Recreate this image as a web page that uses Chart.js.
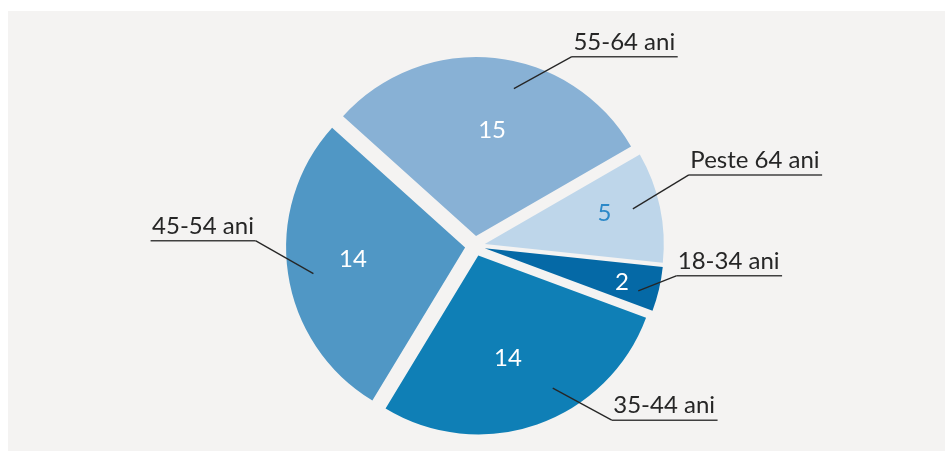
<!DOCTYPE html>
<html>
<head>
<meta charset="utf-8">
<script src="https://cdn.jsdelivr.net/npm/chart.js@4"></script>
<style>
  html, body { margin: 0; padding: 0; background: #fff; }
  #panel { position: absolute; left: 8px; top: 11px; width: 937px; height: 440px; background: #f4f3f2; }
  #pie { position: absolute; left: 0; top: 0; }
</style>
</head>
<body>
<div id="panel"></div>
<canvas id="pie" width="945" height="451"></canvas>
<script>
const categories = ['18-34 ani', '35-44 ani', '45-54 ani', '55-64 ani', 'Peste 64 ani'];
const values = [2, 14, 14, 15, 5];
const sliceColors = ['#0569a6', '#0f7fb6', '#5097c5', '#88b1d5', '#bed6ea'];
const valueColors = ['#ffffff', '#ffffff', '#ffffff', '#ffffff', '#2b88c8'];

// label layout: value text (radius fraction, angle tweak in deg),
// leader anchor (radius fraction, angle tweak) and leader vector to the elbow
const valuePos = [[0.79, 0.7], [0.60, 3.2], [0.63, 2.6], [0.60, 2.6], [0.69, -2.4]];
const anchorPos = [[0.89, 2.3], [0.85, -10.1], [0.86, -1.4], [0.85, 8.4], [0.85, -1.3]];
const leaders = [[38, -15], [59, 32], [-58, -33], [58, -32], [56, -34]];

const EXPLODE = 10;
const FONT = '24px Lato';
const deg = Math.PI / 180;

// pull each slice out along its bisector while it is drawn
const explodePlugin = {
  id: 'explode',
  beforeDatasetDraw(chart, args) {
    args.meta.data.forEach(arc => {
      const mid = (arc.startAngle + arc.endAngle) / 2;
      arc.x += Math.cos(mid) * EXPLODE;
      arc.y += Math.sin(mid) * EXPLODE;
    });
  },
  afterDatasetDraw(chart, args) {
    args.meta.data.forEach(arc => {
      const mid = (arc.startAngle + arc.endAngle) / 2;
      arc.x -= Math.cos(mid) * EXPLODE;
      arc.y -= Math.sin(mid) * EXPLODE;
    });
  }
};

const labelPlugin = {
  id: 'pieLabels',
  afterDatasetsDraw(chart) {
    const ctx = chart.ctx;
    const arcs = chart.getDatasetMeta(0).data;
    ctx.save();
    ctx.font = FONT;
    arcs.forEach((arc, i) => {
      const mid = (arc.startAngle + arc.endAngle) / 2;
      const R = arc.outerRadius;
      const ax = arc.x + Math.cos(mid) * EXPLODE;
      const ay = arc.y + Math.sin(mid) * EXPLODE;

      // value inside the slice
      const va = mid + valuePos[i][1] * deg;
      ctx.fillStyle = valueColors[i];
      ctx.textAlign = 'center';
      ctx.textBaseline = 'middle';
      ctx.fillText(String(values[i]), ax + Math.cos(va) * R * valuePos[i][0], ay + Math.sin(va) * R * valuePos[i][0]);

      // leader line + underlined category label
      const aa = mid + anchorPos[i][1] * deg;
      const px = ax + Math.cos(aa) * R * anchorPos[i][0];
      const py = ay + Math.sin(aa) * R * anchorPos[i][0];
      const ex = px + leaders[i][0];
      const ey = py + leaders[i][1];
      const w = ctx.measureText(categories[i]).width;
      const right = leaders[i][0] > 0;
      const x0 = right ? ex : ex - w - 3;
      const x1 = right ? ex + w + 4 : ex;

      ctx.strokeStyle = '#262626';
      ctx.lineWidth = 1.3;
      ctx.beginPath();
      ctx.moveTo(px, py);
      ctx.lineTo(ex, ey);
      ctx.stroke();
      ctx.strokeStyle = '#404040';
      ctx.lineWidth = 1.5;
      ctx.beginPath();
      ctx.moveTo(x0, ey);
      ctx.lineTo(x1, ey);
      ctx.stroke();

      ctx.fillStyle = '#262626';
      ctx.textAlign = 'left';
      ctx.textBaseline = 'alphabetic';
      ctx.fillText(categories[i], x0 + 1.5, ey - 7);
    });
    ctx.restore();
  }
};

new Chart(document.getElementById('pie'), {
  type: 'pie',
  data: {
    labels: categories,
    datasets: [{
      data: values,
      backgroundColor: sliceColors,
      borderWidth: 0,
      radius: 179
    }]
  },
  options: {
    responsive: false,
    animation: false,
    devicePixelRatio: 1,
    rotation: 96,
    layout: { padding: { left: 5, right: 0, top: 41, bottom: 0 } },
    plugins: {
      legend: { display: false },
      tooltip: { enabled: false }
    }
  },
  plugins: [explodePlugin, labelPlugin]
});
</script>
</body>
</html>
